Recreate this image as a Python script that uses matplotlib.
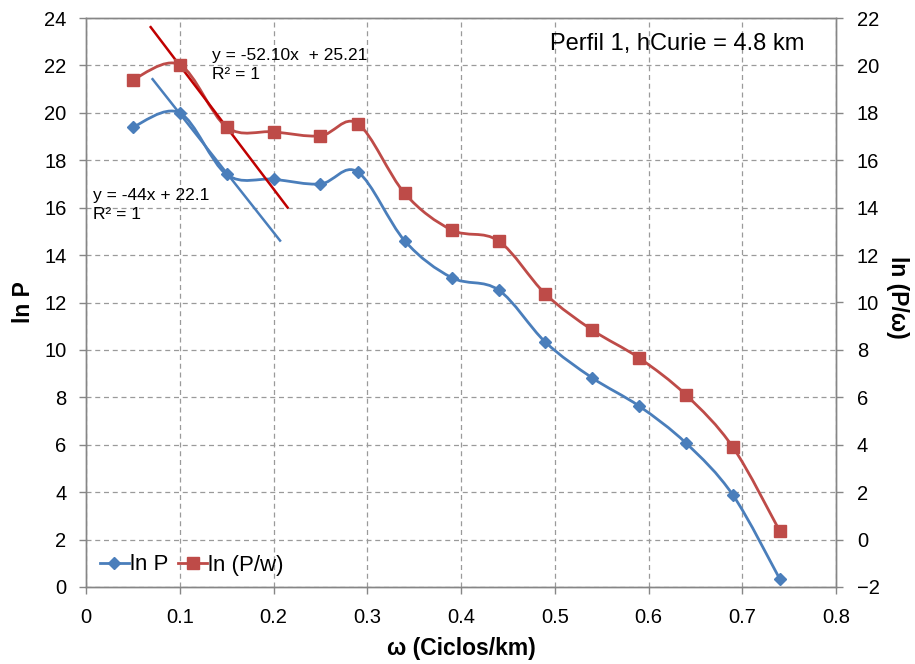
import numpy as np
import matplotlib
matplotlib.use("Agg")
import matplotlib.pyplot as plt
from matplotlib.path import Path
from matplotlib.patches import PathPatch
from matplotlib.lines import Line2D

plt.rcParams['font.family'] = ['Liberation Sans', 'DejaVu Sans']

# Spectral data: angular wavenumber vs log power
omega = [0.05, 0.10, 0.15, 0.20, 0.25, 0.29, 0.34, 0.39, 0.44, 0.49, 0.54, 0.59, 0.64, 0.69, 0.74]
ln_p = [19.4, 20.0, 17.4, 17.2, 17.0, 17.5, 14.6, 13.05, 12.53, 10.33, 8.82, 7.63, 6.07, 3.88, 0.34]
ln_p_w = [19.4, 20.03, 17.4, 17.2, 17.03, 17.54, 14.6, 13.06, 12.6, 10.36, 8.84, 7.66, 6.1, 3.9, 0.36]

# Linear fits over the low-wavenumber segment
fit_p_x = [0.071, 0.207]
fit_p_y = [21.42, 14.61]
fit_pw_slope, fit_pw_icpt = -52.10, 25.21
fit_pw_x = [0.069, 0.215]

x_ticks = [0, 0.1, 0.2, 0.3, 0.4, 0.5, 0.6, 0.7, 0.8]
x_tick_labels = ["0", "0.1", "0.2", "0.3", "0.4", "0.5", "0.6", "0.7", "0.8"]

BLUE = '#4A7EBB'
RED = '#BE4B48'
FIT_RED = '#C00000'
GREY = '#868686'


def smooth_path(x, y, sx, sy):
    """Bezier-smoothed path through the points (Catmull-Rom style)."""
    P = np.column_stack([np.asarray(x) * sx, np.asarray(y) * sy])
    n = len(P)
    verts = [P[0]]
    codes = [Path.MOVETO]
    for i in range(n - 1):
        p0 = P[i - 1] if i > 0 else P[i]
        p1, p2 = P[i], P[i + 1]
        p3 = P[i + 2] if i + 2 < n else P[i + 1]
        c1 = p1 + (p2 - p0) / 6.0
        c2 = p2 - (p3 - p1) / 6.0
        verts += [c1, c2, p2]
        codes += [Path.CURVE4] * 3
    verts = np.array(verts) / np.array([sx, sy])
    return Path(verts, codes)


fig = plt.figure(figsize=(9.15, 6.64), dpi=100)
ax = fig.add_axes([86 / 915, 1 - 587 / 664, 750 / 915, 569 / 664])
ax2 = ax.twinx()

ax.set_xlim(0, 0.8)
ax.set_ylim(0, 24)
ax2.set_ylim(-2, 22)

# pixel scale factors used for smoothing
sx, sy = 750 / 0.8, 569 / 24

ax.set_xticks(x_ticks)
ax.set_xticklabels(x_tick_labels)
ax.set_yticks(np.arange(0, 25, 2))
ax2.set_yticks(np.arange(-2, 23, 2))

ax.grid(True, linestyle=(0, (4, 3)), color='#9a9a9a', linewidth=0.9)
ax.set_axisbelow(True)

for a in (ax, ax2):
    for s in ('left', 'right', 'bottom', 'top'):
        a.spines[s].set_color(GREY)
        a.spines[s].set_linewidth(1.0)
    a.tick_params(axis='both', direction='out', length=5, color=GREY,
                  labelsize=14.5, width=1.0)
ax.tick_params(axis='x', pad=10)
ax.tick_params(axis='y', pad=9)
ax2.tick_params(axis='y', pad=10)

# lnP series (left axis)
ax.add_patch(PathPatch(smooth_path(omega, ln_p, sx, sy), facecolor='none',
                       edgecolor=BLUE, linewidth=2.0, zorder=3))
ax.plot(omega, ln_p, linestyle='none', marker='D', markersize=6.5,
        color=BLUE, zorder=4)
ax.plot(fit_p_x, fit_p_y, color=BLUE, linewidth=1.8, zorder=3)

# ln(P/w) series (right axis)
ax2.add_patch(PathPatch(smooth_path(omega, ln_p_w, sx, sy), facecolor='none',
                        edgecolor=RED, linewidth=2.0, zorder=3))
ax2.plot(omega, ln_p_w, linestyle='none', marker='s', markersize=8.5,
         color=RED, zorder=4)
fit_pw_y = [fit_pw_slope * v + fit_pw_icpt for v in fit_pw_x]
ax2.plot(fit_pw_x, fit_pw_y, color=FIT_RED, linewidth=1.8, zorder=3)

# Equation annotations
fig.text(212 / 915, 1 - 65 / 664, "y = -52.10x  + 25.21\nR² = 1",
         fontsize=12.5, va='center', ha='left', linespacing=1.3)
fig.text(93 / 915, 1 - 205 / 664, "y = -44x + 22.1\nR² = 1",
         fontsize=12.5, va='center', ha='left', linespacing=1.3)

fig.text(677 / 915, 1 - 44 / 664, "Perfil 1, hCurie = 4.8 km",
         fontsize=17, ha='center', va='center')

fig.text(461 / 915, 1 - 649 / 664, "ω (Ciclos/km)", fontsize=16.5,
         fontweight='bold', ha='center', va='center')
fig.text(23 / 915, 1 - 302 / 664, "ln P", fontsize=16.5, fontweight='bold',
         ha='center', va='center', rotation=90)
fig.text(897 / 915, 1 - 297 / 664, "ln (P/ω)", fontsize=16.5,
         fontweight='bold', ha='center', va='center', rotation=270)

handles = [
    Line2D([], [], color=BLUE, marker='D', markersize=6.5, linewidth=2.0),
    Line2D([], [], color=RED, marker='s', markersize=8.5, linewidth=2.0),
]
fig.legend(handles, ["ln P", "ln (P/w)"], loc='center left', ncol=2,
           frameon=False, fontsize=16, handlelength=1.3, handletextpad=0.05,
           columnspacing=0.45, borderpad=0, borderaxespad=0,
           bbox_to_anchor=(100 / 915, 1 - 565 / 664))

fig.savefig("out.png", dpi=100)
